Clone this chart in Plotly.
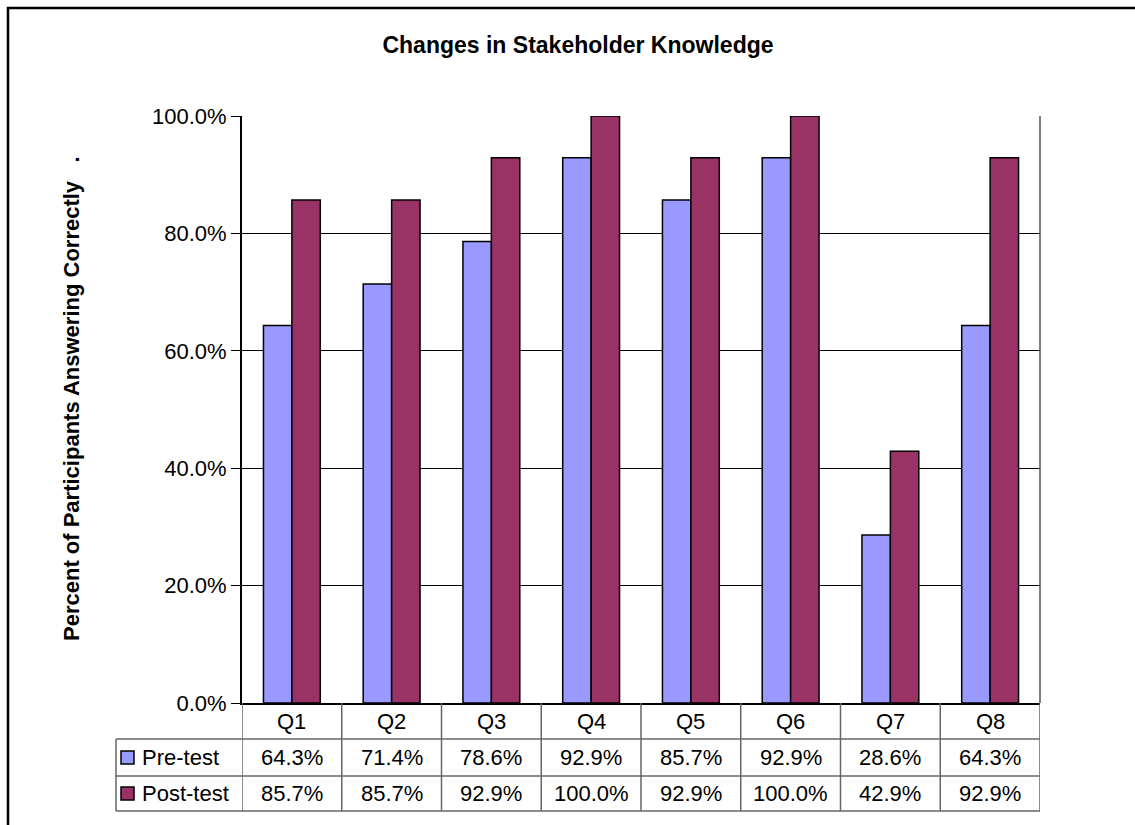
import plotly.graph_objects as go

# data
questions = ["Q1", "Q2", "Q3", "Q4", "Q5", "Q6", "Q7", "Q8"]
pre_test = [0.643, 0.714, 0.786, 0.929, 0.857, 0.929, 0.286, 0.643]
post_test = [0.857, 0.857, 0.929, 1.0, 0.929, 1.0, 0.429, 0.929]
series_names = ["Pre-test", "Post-test"]
series_colors = ["#9999FF", "#993366"]
y_ticks = [0, 0.2, 0.4, 0.6, 0.8, 1.0]

FONT = "Liberation Sans"
W, H = 1135, 825
# plot area in pixels
L, R, T, B = 242, 1040, 116, 703


def px(x):
    return (x - L) / (R - L)


def py(y):
    return (B - y) / (B - T)


fig = go.Figure()
for name, vals, col in zip(series_names, [pre_test, post_test], series_colors):
    fig.add_trace(
        go.Bar(
            x=questions,
            y=vals,
            name=name,
            marker_color=col,
            marker_line_color="black",
            marker_line_width=1.5,
        )
    )

fig.update_layout(
    width=W,
    height=H,
    margin=dict(l=L, r=W - R, t=T, b=H - B, autoexpand=False),
    paper_bgcolor="white",
    plot_bgcolor="white",
    barmode="group",
    bargap=0.43,
    bargroupgap=0,
    showlegend=False,
    font=dict(family=FONT, size=22, color="black"),
    title=dict(
        text="<b>Changes in Stakeholder Knowledge</b>",
        x=578 / W, xref="container", xanchor="center",
        y=1 - 45 / H, yref="container", yanchor="middle",
        font=dict(family=FONT, size=23, color="black"),
    ),
)

fig.update_yaxes(
    range=[0, 1],
    tickvals=y_ticks,
    tickformat=".1%",
    ticks="outside",
    ticklen=9,
    tickcolor="black",
    showgrid=True,
    gridcolor="black",
    gridwidth=1,
    showline=True,
    linecolor="black",
    linewidth=2,
    zeroline=False,
    tickfont=dict(size=22),
)
fig.update_xaxes(
    range=[-0.5, len(questions) - 0.5],
    showticklabels=False,
    ticks="",
    showline=True,
    linecolor="black",
    linewidth=2,
    showgrid=False,
)

# y axis title
fig.add_annotation(
    text="<b>Percent of Participants Answering Correctly\u00a0\u00a0\u00a0.</b>",
    textangle=-90,
    x=px(71), xref="paper", xanchor="center",
    y=py(399), yref="paper", yanchor="middle",
    showarrow=False, font=dict(size=22),
)

# right border of the plot area
fig.add_shape(type="line", xref="paper", yref="paper", x0=1, x1=1, y0=0, y1=1,
              line=dict(color="#555555", width=1.5))

# data table under the axis
line_col = "#666666"
row_edges = [703, 739, 776, 811]
for y in row_edges[1:]:
    fig.add_shape(type="line", xref="paper", yref="paper",
                  x0=px(116), x1=1, y0=py(y), y1=py(y),
                  line=dict(color=line_col, width=1.5))
fig.add_shape(type="line", xref="paper", yref="paper",
              x0=px(116), x1=px(116), y0=py(739), y1=py(811),
              line=dict(color=line_col, width=1.5))
for k in range(len(questions) + 1):
    fig.add_shape(type="line", xref="x", yref="paper",
                  x0=k - 0.5, x1=k - 0.5, y0=py(703), y1=py(811),
                  line=dict(color=line_col, width=1.5))

for q in questions:
    fig.add_annotation(text=q, x=q, xref="x", xanchor="center",
                       y=py(721), yref="paper", yanchor="middle",
                       showarrow=False, font=dict(size=22))

row_centers = [757.5, 793.5]
for name, vals, col, yc in zip(series_names, [pre_test, post_test], series_colors, row_centers):
    fig.add_shape(type="rect", xref="paper", yref="paper",
                  x0=px(121), x1=px(134), y0=py(yc - 6.5), y1=py(yc + 6.5),
                  fillcolor=col, line=dict(color="black", width=1.5))
    fig.add_annotation(text=name, x=px(140), xref="paper", xanchor="left",
                       y=py(yc), yref="paper", yanchor="middle",
                       showarrow=False, font=dict(size=22))
    for q, v in zip(questions, vals):
        fig.add_annotation(text=f"{v:.1%}", x=q, xref="x", xanchor="center",
                           y=py(yc), yref="paper", yanchor="middle",
                           showarrow=False, font=dict(size=22))

# chart area frame (cut off at right and bottom)
fig.add_shape(type="rect", xref="paper", yref="paper",
              x0=px(8), x1=px(1200), y0=py(8), y1=py(900),
              line=dict(color="black", width=2.5))

# drop the page's default body margin so the figure sits at the window origin
fig.write_html("out.html", config={"displayModeBar": False},
               post_script="document.body.style.margin='0';")
